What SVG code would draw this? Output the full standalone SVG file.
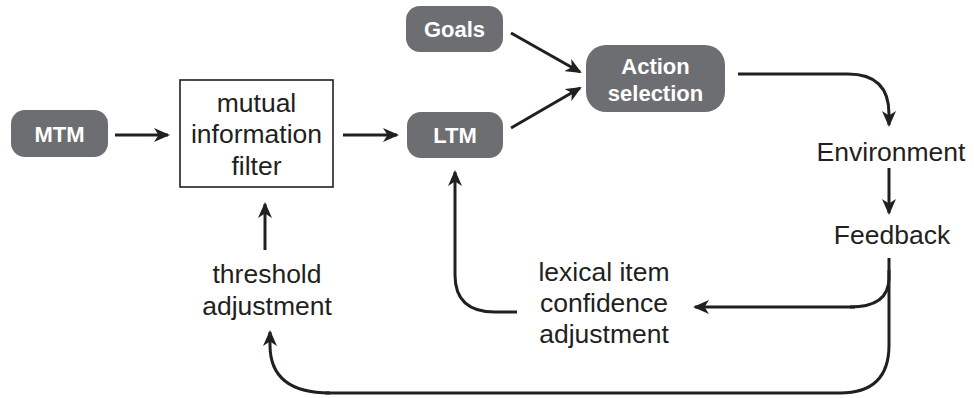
<svg xmlns="http://www.w3.org/2000/svg" width="974" height="398" viewBox="0 0 974 398">
  <style>
    .node rect.pill { fill: #6d6e71; }
    .node text.lbl { font-family: "Liberation Sans", Arial, sans-serif; font-weight: bold; font-size: 22px; fill: #ffffff; text-anchor: middle; }
    .plain { font-family: "Liberation Sans", Arial, sans-serif; font-size: 26.5px; fill: #231f20; text-anchor: middle; }
    .box { fill: #ffffff; stroke: #231f20; stroke-width: 1.6; }
    #connectors path { fill: none; stroke: #231f20; stroke-width: 3; }
    #connectors path.arrow { marker-end: url(#head); }
  </style>
  <defs>
    <marker id="head" viewBox="0 0 16 14" refX="14" refY="7" markerWidth="16" markerHeight="14" markerUnits="userSpaceOnUse" orient="auto">
      <path d="M0,0 L16,7 L0,14 L4.500,7 Z" fill="#231f20"/>
    </marker>
  </defs>
  <rect width="974" height="398" fill="#ffffff"/>

  <g id="mtm" class="node">
    <rect class="pill" x="11" y="110" width="97" height="47" rx="14"/>
    <text class="lbl" x="59.500" y="142">MTM</text>
  </g>

  <g id="filter" class="node">
    <rect class="box" x="180" y="80" width="153" height="107"/>
    <text class="plain" x="256.500" y="112">mutual</text>
    <text class="plain" x="256.500" y="143">information</text>
    <text class="plain" x="256.500" y="175">filter</text>
  </g>

  <g id="goals" class="node">
    <rect class="pill" x="406" y="6" width="97" height="46" rx="14"/>
    <text class="lbl" x="454.500" y="37">Goals</text>
  </g>

  <g id="ltm" class="node">
    <rect class="pill" x="407" y="112" width="96" height="46" rx="14"/>
    <text class="lbl" x="455" y="143">LTM</text>
  </g>

  <g id="action" class="node">
    <rect class="pill" x="586" y="45" width="139" height="67" rx="20"/>
    <text class="lbl" x="655.500" y="74" font-size="21">Action</text>
    <text class="lbl" x="655.500" y="101" font-size="21">selection</text>
  </g>

  <g id="environment" class="node">
    <text class="plain" x="891" y="161">Environment</text>
  </g>

  <g id="feedback" class="node">
    <text class="plain" x="892" y="244">Feedback</text>
  </g>

  <g id="lexical" class="node">
    <text class="plain" x="604" y="281">lexical item</text>
    <text class="plain" x="604" y="312">confidence</text>
    <text class="plain" x="604" y="343">adjustment</text>
  </g>

  <g id="threshold" class="node">
    <text class="plain" x="267" y="283">threshold</text>
    <text class="plain" x="267" y="315">adjustment</text>
  </g>

  <g id="connectors">
    <path class="arrow" d="M115,135 H168"/>
    <path class="arrow" d="M343,135 H397"/>
    <path class="arrow" d="M511,33 L580,72"/>
    <path class="arrow" d="M511,128 L580,88"/>
    <path class="arrow" d="M738,74 H848 Q889,74 889,114 V125"/>
    <path class="arrow" d="M889,168 V213"/>
    <path d="M889,258 V278 Q889,307 850,307"/>
    <path class="arrow" d="M855,307 H695"/>
    <path d="M889,270 V345 Q889,393 840,393 H325"/>
    <path class="arrow" d="M330,393 Q270,393 270,345 V332"/>
    <path class="arrow" d="M517,312 H495 Q455,312 455,275 V172"/>
    <path class="arrow" d="M265,250 V204"/>
  </g>
</svg>
